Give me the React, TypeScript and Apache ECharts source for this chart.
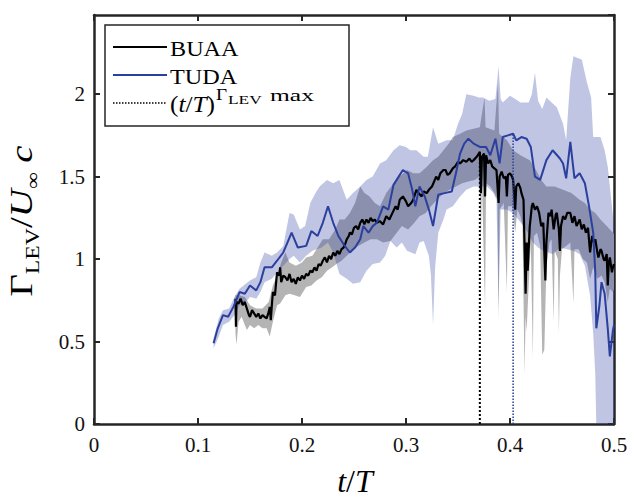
import React, { useEffect, useRef } from "react";
import * as echarts from "echarts";

// ---------- data ----------
const xTicks = [0, 0.1, 0.2, 0.3, 0.4, 0.5];
const yTicks = [0, 0.5, 1, 1.5, 2];

// TUDA mean line [t/T, Gamma]
const tudaLine: number[][] = [
  [0.115, 0.49], [0.119, 0.58], [0.124, 0.66], [0.129, 0.65], [0.134, 0.71], [0.140, 0.80],
  [0.145, 0.79], [0.150, 0.84], [0.156, 0.81], [0.160, 0.86], [0.164, 0.95], [0.171, 0.95],
  [0.176, 0.99], [0.182, 1.04], [0.186, 1.10], [0.190, 1.16], [0.196, 1.07], [0.204, 1.08],
  [0.209, 1.17], [0.215, 1.14], [0.220, 1.22], [0.225, 1.32], [0.230, 1.22], [0.235, 1.14],
  [0.240, 1.09], [0.246, 1.04], [0.251, 1.07], [0.256, 1.12], [0.259, 1.20], [0.264, 1.16],
  [0.268, 1.20], [0.272, 1.22], [0.278, 1.32], [0.283, 1.30], [0.288, 1.45], [0.293, 1.50],
  [0.297, 1.54], [0.302, 1.52], [0.306, 1.42], [0.309, 1.32], [0.313, 1.44], [0.318, 1.38],
  [0.322, 1.30], [0.326, 1.20], [0.331, 1.39], [0.337, 1.40], [0.344, 1.41], [0.348, 1.52],
  [0.352, 1.64], [0.356, 1.70], [0.360, 1.73], [0.365, 1.70], [0.371, 1.68], [0.377, 1.68],
  [0.381, 1.63], [0.386, 1.73], [0.390, 1.58], [0.393, 1.74], [0.398, 1.75], [0.403, 1.76],
  [0.406, 1.72], [0.411, 1.74], [0.416, 1.73], [0.420, 1.68], [0.424, 1.50], [0.429, 1.48],
  [0.435, 1.60], [0.441, 1.66], [0.448, 1.61], [0.451, 1.58], [0.454, 1.49], [0.458, 1.71],
  [0.462, 1.49], [0.467, 1.52], [0.472, 1.46], [0.476, 1.32], [0.480, 1.16], [0.482, 0.92],
  [0.483, 0.58], [0.486, 0.72], [0.488, 0.86], [0.491, 0.79], [0.494, 0.58], [0.496, 0.41],
  [0.499, 0.57], [0.500, 0.60],
];

// TUDA band upper / lower edges
const tudaUpper: number[][] = [
  [0.115, 0.52], [0.120, 0.64], [0.124, 0.69], [0.130, 0.70], [0.135, 0.77], [0.140, 0.82],
  [0.146, 0.85], [0.150, 0.87], [0.156, 0.89], [0.160, 0.98], [0.164, 1.04], [0.171, 1.02],
  [0.176, 1.04], [0.182, 1.08], [0.188, 1.28], [0.192, 1.27], [0.198, 1.18], [0.203, 1.20],
  [0.208, 1.34], [0.213, 1.40], [0.217, 1.44], [0.224, 1.48], [0.230, 1.46], [0.236, 1.48],
  [0.243, 1.36], [0.249, 1.40], [0.256, 1.44], [0.262, 1.48], [0.268, 1.50], [0.275, 1.58],
  [0.281, 1.60], [0.288, 1.66], [0.294, 1.69], [0.300, 1.68], [0.304, 1.66], [0.310, 1.66],
  [0.317, 1.62], [0.321, 1.62], [0.326, 1.80], [0.331, 1.70], [0.339, 1.72], [0.345, 1.72],
  [0.350, 1.82], [0.354, 1.88], [0.358, 2.00], [0.365, 1.99], [0.370, 1.98], [0.374, 1.98],
  [0.380, 1.96], [0.386, 1.97], [0.389, 2.17], [0.391, 1.97], [0.393, 1.95], [0.400, 1.99],
  [0.405, 1.97], [0.410, 1.95], [0.418, 1.95], [0.421, 2.00], [0.424, 2.13], [0.427, 1.96],
  [0.431, 1.91], [0.435, 1.98], [0.440, 1.95], [0.445, 1.92], [0.451, 1.82], [0.454, 1.72],
  [0.458, 2.10], [0.461, 2.23], [0.465, 2.22], [0.469, 2.21], [0.474, 2.07], [0.478, 1.98],
  [0.480, 1.74], [0.484, 1.74], [0.487, 1.74], [0.491, 1.66], [0.494, 1.56], [0.498, 1.32],
  [0.500, 1.20],
];
const tudaLower: number[][] = [
  [0.115, 0.46], [0.120, 0.53], [0.124, 0.60], [0.130, 0.62], [0.135, 0.66], [0.140, 0.72],
  [0.146, 0.74], [0.150, 0.77], [0.156, 0.76], [0.160, 0.80], [0.164, 0.86], [0.171, 0.88],
  [0.176, 0.92], [0.182, 0.96], [0.188, 1.00], [0.192, 1.02], [0.198, 0.98], [0.204, 1.02],
  [0.210, 1.05], [0.219, 1.07], [0.225, 1.10], [0.230, 1.04], [0.236, 0.91], [0.243, 0.88],
  [0.249, 0.85], [0.256, 0.86], [0.262, 0.93], [0.268, 0.97], [0.275, 0.98], [0.280, 1.02],
  [0.285, 1.11], [0.291, 1.07], [0.296, 1.10], [0.301, 1.05], [0.309, 1.03], [0.313, 1.10],
  [0.317, 1.11], [0.322, 1.02], [0.324, 0.90], [0.326, 0.60], [0.328, 0.95], [0.331, 1.16],
  [0.336, 1.24], [0.339, 1.30], [0.345, 1.32], [0.352, 1.38], [0.358, 1.42], [0.365, 1.44],
  [0.372, 1.44], [0.378, 1.44], [0.384, 1.40], [0.387, 1.36], [0.389, 0.70], [0.391, 1.30],
  [0.397, 1.30], [0.403, 1.28], [0.408, 1.24], [0.413, 1.20], [0.418, 1.15], [0.422, 1.10],
  [0.427, 1.07], [0.432, 1.05], [0.437, 1.04], [0.441, 1.03], [0.448, 1.07], [0.455, 1.06],
  [0.461, 1.05], [0.467, 1.03], [0.472, 0.96], [0.477, 0.78], [0.480, 0.55], [0.482, 0.30],
  [0.483, 0.00], [0.500, 0.00],
];

// BUAA mean line
const buaaLine: number[][] = [
  [0.136, 0.76], [0.1365, 0.59], [0.137, 0.74], [0.139, 0.73], [0.141, 0.76], [0.143, 0.72],
  [0.145, 0.74], [0.147, 0.70], [0.149, 0.66], [0.150, 0.65], [0.152, 0.69], [0.153, 0.68],
  [0.155, 0.66], [0.156, 0.65], [0.158, 0.67], [0.160, 0.64], [0.162, 0.66], [0.164, 0.65],
  [0.166, 0.64], [0.168, 0.68], [0.169, 0.71], [0.170, 0.63], [0.171, 0.72], [0.172, 0.80],
  [0.174, 0.78], [0.176, 0.92], [0.178, 0.90], [0.179, 0.95], [0.180, 0.86], [0.182, 0.90],
  [0.184, 0.89], [0.186, 0.87], [0.188, 0.91], [0.190, 0.86], [0.192, 0.88], [0.194, 0.85],
  [0.196, 0.89], [0.198, 0.87], [0.200, 0.90], [0.202, 0.88], [0.204, 0.91], [0.206, 0.90],
  [0.208, 0.93], [0.210, 0.92], [0.212, 0.95], [0.214, 0.93], [0.216, 0.97], [0.218, 0.96],
  [0.220, 0.99], [0.222, 1.01], [0.224, 0.98], [0.226, 1.02], [0.228, 1.00], [0.230, 1.04],
  [0.232, 1.02], [0.234, 1.05], [0.236, 1.03], [0.238, 1.06], [0.240, 1.07], [0.242, 1.10],
  [0.243, 1.12], [0.245, 1.14], [0.246, 1.16], [0.248, 1.15], [0.250, 1.19], [0.252, 1.20],
  [0.254, 1.18], [0.256, 1.22], [0.258, 1.24], [0.260, 1.21], [0.262, 1.24], [0.264, 1.22],
  [0.266, 1.25], [0.268, 1.23], [0.270, 1.24], [0.272, 1.22], [0.275, 1.23], [0.278, 1.21],
  [0.281, 1.26], [0.284, 1.24], [0.287, 1.28], [0.290, 1.32], [0.292, 1.30], [0.294, 1.36],
  [0.297, 1.38], [0.300, 1.35], [0.302, 1.32], [0.305, 1.34], [0.307, 1.36], [0.310, 1.42],
  [0.312, 1.40], [0.315, 1.38], [0.317, 1.41], [0.320, 1.40], [0.322, 1.42], [0.325, 1.44],
  [0.327, 1.47], [0.329, 1.50], [0.331, 1.48], [0.333, 1.52], [0.336, 1.54], [0.338, 1.54],
  [0.340, 1.51], [0.342, 1.52], [0.345, 1.55], [0.347, 1.56], [0.350, 1.59], [0.352, 1.58],
  [0.355, 1.60], [0.358, 1.59], [0.361, 1.61], [0.363, 1.59], [0.365, 1.60], [0.368, 1.62],
  [0.371, 1.65], [0.372, 1.40], [0.373, 1.62], [0.375, 1.64], [0.376, 1.38], [0.377, 1.63],
  [0.379, 1.58], [0.381, 1.60], [0.383, 1.56], [0.385, 1.55], [0.387, 1.54], [0.389, 1.34],
  [0.390, 1.50], [0.392, 1.53], [0.394, 1.49], [0.396, 1.50], [0.397, 1.38], [0.398, 1.51],
  [0.400, 1.52], [0.402, 1.50], [0.403, 1.48], [0.405, 1.30], [0.406, 1.44], [0.408, 1.46],
  [0.410, 1.43], [0.411, 1.40], [0.413, 1.36], [0.415, 0.79], [0.416, 1.10], [0.417, 0.93],
  [0.419, 1.20], [0.421, 1.32], [0.422, 1.34], [0.424, 1.30], [0.426, 1.32], [0.428, 1.28],
  [0.430, 1.20], [0.432, 1.22], [0.434, 0.87], [0.435, 1.10], [0.437, 1.28], [0.439, 1.26],
  [0.440, 1.30], [0.442, 1.18], [0.444, 1.27], [0.445, 1.28], [0.447, 1.18], [0.448, 1.05],
  [0.449, 1.20], [0.451, 1.26], [0.453, 1.24], [0.455, 1.28], [0.458, 1.28], [0.460, 1.22],
  [0.462, 1.26], [0.464, 1.20], [0.467, 1.24], [0.469, 1.18], [0.471, 1.21], [0.473, 1.16],
  [0.475, 1.19], [0.477, 1.04], [0.479, 1.14], [0.481, 1.10], [0.482, 1.12], [0.484, 1.04],
  [0.485, 1.01], [0.487, 1.06], [0.488, 1.05], [0.490, 1.00], [0.491, 0.99], [0.493, 1.03],
  [0.494, 0.84], [0.495, 0.98], [0.496, 1.01], [0.498, 0.92], [0.499, 0.95], [0.500, 0.97],
];

// BUAA band upper / lower edges
const buaaUpper: number[][] = [
  [0.136, 0.78], [0.140, 0.78], [0.145, 0.77], [0.150, 0.72], [0.156, 0.70], [0.162, 0.70],
  [0.168, 0.74], [0.172, 0.84], [0.176, 0.90], [0.180, 0.98], [0.184, 1.04], [0.188, 0.98],
  [0.194, 0.96], [0.200, 0.98], [0.204, 1.01], [0.210, 1.02], [0.216, 1.08], [0.220, 1.12],
  [0.226, 1.12], [0.232, 1.18], [0.236, 1.24], [0.241, 1.24], [0.246, 1.28], [0.251, 1.34],
  [0.256, 1.44], [0.260, 1.40], [0.265, 1.38], [0.270, 1.34], [0.275, 1.32], [0.281, 1.40],
  [0.288, 1.46], [0.294, 1.50], [0.301, 1.54], [0.307, 1.52], [0.313, 1.52], [0.320, 1.56],
  [0.326, 1.60], [0.331, 1.62], [0.336, 1.66], [0.341, 1.70], [0.345, 1.74], [0.352, 1.76],
  [0.358, 1.78], [0.365, 1.79], [0.371, 1.80], [0.3755, 1.98], [0.3765, 1.80], [0.385, 1.78],
  [0.3885, 2.07], [0.3895, 1.76], [0.397, 1.72], [0.403, 1.66], [0.410, 1.63], [0.419, 1.60],
  [0.425, 1.54], [0.430, 1.48], [0.435, 1.44], [0.443, 1.44], [0.451, 1.42], [0.459, 1.40],
  [0.467, 1.36], [0.472, 1.34], [0.477, 1.30], [0.482, 1.28], [0.487, 1.24], [0.493, 1.20],
  [0.499, 1.16], [0.500, 1.15],
];
const buaaLower: number[][] = [
  [0.136, 0.55], [0.137, 0.48], [0.139, 0.62], [0.142, 0.65], [0.145, 0.60], [0.147, 0.57],
  [0.150, 0.60], [0.154, 0.58], [0.158, 0.60], [0.162, 0.58], [0.166, 0.58], [0.169, 0.53],
  [0.172, 0.62], [0.176, 0.72], [0.179, 0.73], [0.184, 0.78], [0.188, 0.79], [0.193, 0.78],
  [0.198, 0.77], [0.204, 0.83], [0.209, 0.84], [0.214, 0.87], [0.219, 0.89], [0.224, 0.93],
  [0.229, 0.95], [0.233, 0.97], [0.238, 0.99], [0.243, 1.02], [0.248, 1.05], [0.254, 1.08],
  [0.260, 1.10], [0.266, 1.12], [0.272, 1.12], [0.278, 1.10], [0.285, 1.11], [0.290, 1.15],
  [0.296, 1.20], [0.302, 1.18], [0.308, 1.22], [0.313, 1.26], [0.319, 1.28], [0.324, 1.32],
  [0.330, 1.36], [0.336, 1.40], [0.342, 1.42], [0.348, 1.44], [0.354, 1.46], [0.360, 1.47],
  [0.366, 1.48], [0.371, 1.50], [0.372, 1.10], [0.373, 1.48], [0.376, 0.70], [0.377, 1.46],
  [0.381, 1.44], [0.385, 1.40], [0.388, 1.36], [0.389, 0.62], [0.390, 1.30], [0.394, 1.34],
  [0.397, 0.80], [0.398, 1.32], [0.402, 1.32], [0.405, 1.16], [0.407, 1.30], [0.410, 1.26],
  [0.412, 1.20], [0.414, 0.30], [0.415, 0.65], [0.416, 0.56], [0.418, 0.85], [0.420, 1.10],
  [0.422, 0.40], [0.423, 1.14], [0.426, 1.16], [0.429, 1.08], [0.431, 0.42], [0.433, 0.45],
  [0.435, 0.95], [0.438, 1.10], [0.440, 1.12], [0.442, 0.62], [0.443, 1.05], [0.446, 1.00],
  [0.447, 0.55], [0.448, 0.90], [0.450, 1.06], [0.454, 1.08], [0.458, 1.10], [0.461, 0.73],
  [0.462, 1.06], [0.466, 1.06], [0.470, 1.00], [0.474, 0.98], [0.477, 0.88], [0.480, 0.95],
  [0.484, 0.88], [0.488, 0.90], [0.491, 0.86], [0.494, 0.74], [0.496, 0.82], [0.499, 0.80],
  [0.500, 0.82],
];

const legendNames = ["BUAA", "TUDA"];

// ---------- styling ----------
const FONT = "'Liberation Serif', 'DejaVu Serif', serif";
const AXIS_COLOR = "#262626";
const BLUE = "#2b3f9f";
const BLUE_BAND = "rgba(43,63,159,0.3)";
const GRAY_BAND = "#b4b4b4";

function argMax(arr: number[][]): number[] {
  let best = arr[0];
  for (const p of arr) if (p[1] > best[1]) best = p;
  return best;
}

function bandSeries(upper: number[][], lower: number[][], fill: string, name: string) {
  const pts = upper.concat(lower.slice().reverse());
  return {
    type: "custom",
    name,
    silent: true,
    coordinateSystem: "cartesian2d",
    data: pts,
    encode: { x: 0, y: 1 },
    clip: true,
    renderItem: (params: any, api: any) => {
      if (params.dataIndex !== 0) return null;
      const points = pts.map((p) => api.coord(p));
      return { type: "polygon", shape: { points }, style: { fill, stroke: null } };
    },
  };
}

function txt(x: number, y: number, style: any, extra: any = {}) {
  return { type: "text", z: 101, x, y, ...extra, style: { fill: "#000", verticalAlign: "middle", ...style } };
}

export default function App() {
  const ref = useRef<HTMLDivElement>(null);

  useEffect(() => {
    if (!ref.current) return;
    const chart = echarts.init(ref.current, undefined, { renderer: "svg" });

    const buaaPeak = argMax(buaaLine);
    const tudaPeak = argMax(tudaLine);

    const axisLine = { show: true, onZero: false, lineStyle: { color: AXIS_COLOR, width: 2.5 } };
    const axisTick = { show: true, inside: true, length: 6, lineStyle: { color: AXIS_COLOR, width: 2 } };
    const fmt = (v: number) => String(Number(v.toFixed(2)));

    const xBase = {
      type: "value",
      min: xTicks[0],
      max: xTicks[xTicks.length - 1],
      interval: 0.1,
      axisLine,
      axisTick,
      splitLine: { show: false },
    };
    const yBase = {
      type: "value",
      min: yTicks[0],
      max: 2.48,
      interval: 0.5,
      axisLine,
      axisTick,
      splitLine: { show: false },
    };

    const option: any = {
      animation: false,
      backgroundColor: "#fff",
      grid: { left: 94, right: 20, top: 15, bottom: 75, containLabel: false },
      xAxis: [
        {
          ...xBase,
          position: "bottom",
          axisLabel: {
            fontFamily: FONT,
            fontSize: 21,
            color: "#111",
            margin: 10,
            formatter: (v: number) => fmt(v),
          },
        },
        { ...xBase, position: "top", axisLabel: { show: false } },
      ],
      yAxis: [
        {
          ...yBase,
          position: "left",
          axisLabel: {
            fontFamily: FONT,
            fontSize: 21,
            color: "#111",
            margin: 9,
            showMaxLabel: false,
            formatter: (v: number) =>
              yTicks.some((t) => Math.abs(t - v) < 1e-6) ? fmt(v) : "",
          },
        },
        { ...yBase, position: "right", axisLabel: { show: false } },
      ],
      series: [
        bandSeries(buaaUpper, buaaLower, GRAY_BAND, "BUAA band"),
        {
          type: "line",
          name: legendNames[0],
          data: buaaLine,
          showSymbol: false,
          symbol: "none",
          lineStyle: { color: "#000", width: 2.2 },
          silent: true,
        },
        {
          type: "line",
          name: "BUAA peak",
          data: [[buaaPeak[0], 0], [buaaPeak[0], buaaPeak[1]]],
          showSymbol: false,
          symbol: "none",
          lineStyle: { color: "#000", width: 2, type: [2, 2] },
          silent: true,
        },
        bandSeries(tudaUpper, tudaLower, BLUE_BAND, "TUDA band"),
        {
          type: "line",
          name: legendNames[1],
          data: tudaLine,
          showSymbol: false,
          symbol: "none",
          lineStyle: { color: BLUE, width: 2 },
          silent: true,
        },
        {
          type: "line",
          name: "TUDA peak",
          data: [[tudaPeak[0], 0], [tudaPeak[0], tudaPeak[1]]],
          showSymbol: false,
          symbol: "none",
          lineStyle: { color: BLUE, width: 1.5, type: [1.5, 1.5] },
          silent: true,
        },
      ],
      graphic: [
        // legend
        {
          type: "rect",
          z: 100,
          shape: { x: 105, y: 25, width: 244, height: 101 },
          style: { fill: "#fff", stroke: AXIS_COLOR, lineWidth: 1.5 },
        },
        {
          type: "line",
          z: 101,
          shape: { x1: 113, y1: 47, x2: 167, y2: 47 },
          style: { stroke: "#000", lineWidth: 2.2 },
        },
        {
          type: "line",
          z: 101,
          shape: { x1: 113, y1: 75, x2: 167, y2: 75 },
          style: { stroke: BLUE, lineWidth: 2 },
        },
        {
          type: "line",
          z: 101,
          shape: { x1: 113, y1: 103, x2: 167, y2: 103 },
          style: { stroke: "#000", lineWidth: 1.5, lineDash: [1.5, 1.5] },
        },
        txt(170, 48, { text: legendNames[0], fontFamily: FONT, fontSize: 22 }, { scaleX: 1.1 }),
        txt(170, 76, { text: legendNames[1], fontFamily: FONT, fontSize: 22 }, { scaleX: 1.1 }),
        txt(
          170,
          104,
          {
            text: "{n|(}{i|t}{n|/}{i|T}{n|)}",
            rich: {
              n: { fontFamily: FONT, fontSize: 23, fill: "#000" },
              i: { fontFamily: FONT, fontSize: 23, fontStyle: "italic", fill: "#000" },
            },
          },
          { scaleX: 1.1 }
        ),
        txt(216, 95, { text: "Γ", fontFamily: FONT, fontSize: 16 }, { scaleX: 1.2 }),
        txt(228, 100, { text: "LEV", fontFamily: FONT, fontSize: 12 }, { scaleX: 1.45 }),
        txt(270, 96, { text: "max", fontFamily: FONT, fontSize: 17 }, { scaleX: 1.5 }),
        // axis titles
        {
          type: "text",
          x: 355,
          y: 481,
          style: {
            text: "{i|t}{n|/}{i|T}",
            align: "center",
            verticalAlign: "middle",
            rich: {
              i: { fontFamily: FONT, fontSize: 32, fontStyle: "italic", fill: "#000" },
              n: { fontFamily: FONT, fontSize: 32, fill: "#000" },
            },
          },
        },
        {
          type: "text",
          x: 22,
          y: 221,
          rotation: Math.PI / 2,
          scaleX: 1.25,
          style: {
            text: "{n|Γ}{s|LEV}{n|/}{i|U}{s|∞}{i| c}",
            align: "center",
            verticalAlign: "middle",
            rich: {
              n: { fontFamily: FONT, fontSize: 31, lineHeight: 40, fill: "#000" },
              i: { fontFamily: FONT, fontSize: 31, lineHeight: 40, fontStyle: "italic", fill: "#000" },
              s: { fontFamily: FONT, fontSize: 19, lineHeight: 19, verticalAlign: "bottom", fill: "#000" },
            },
          },
        },
      ],
    };

    chart.setOption(option);
    return () => chart.dispose();
  }, []);

  return (
    <div
      ref={ref}
      style={{ position: "fixed", left: 0, top: 0, width: 634, height: 499, background: "#fff" }}
    />
  );
}
